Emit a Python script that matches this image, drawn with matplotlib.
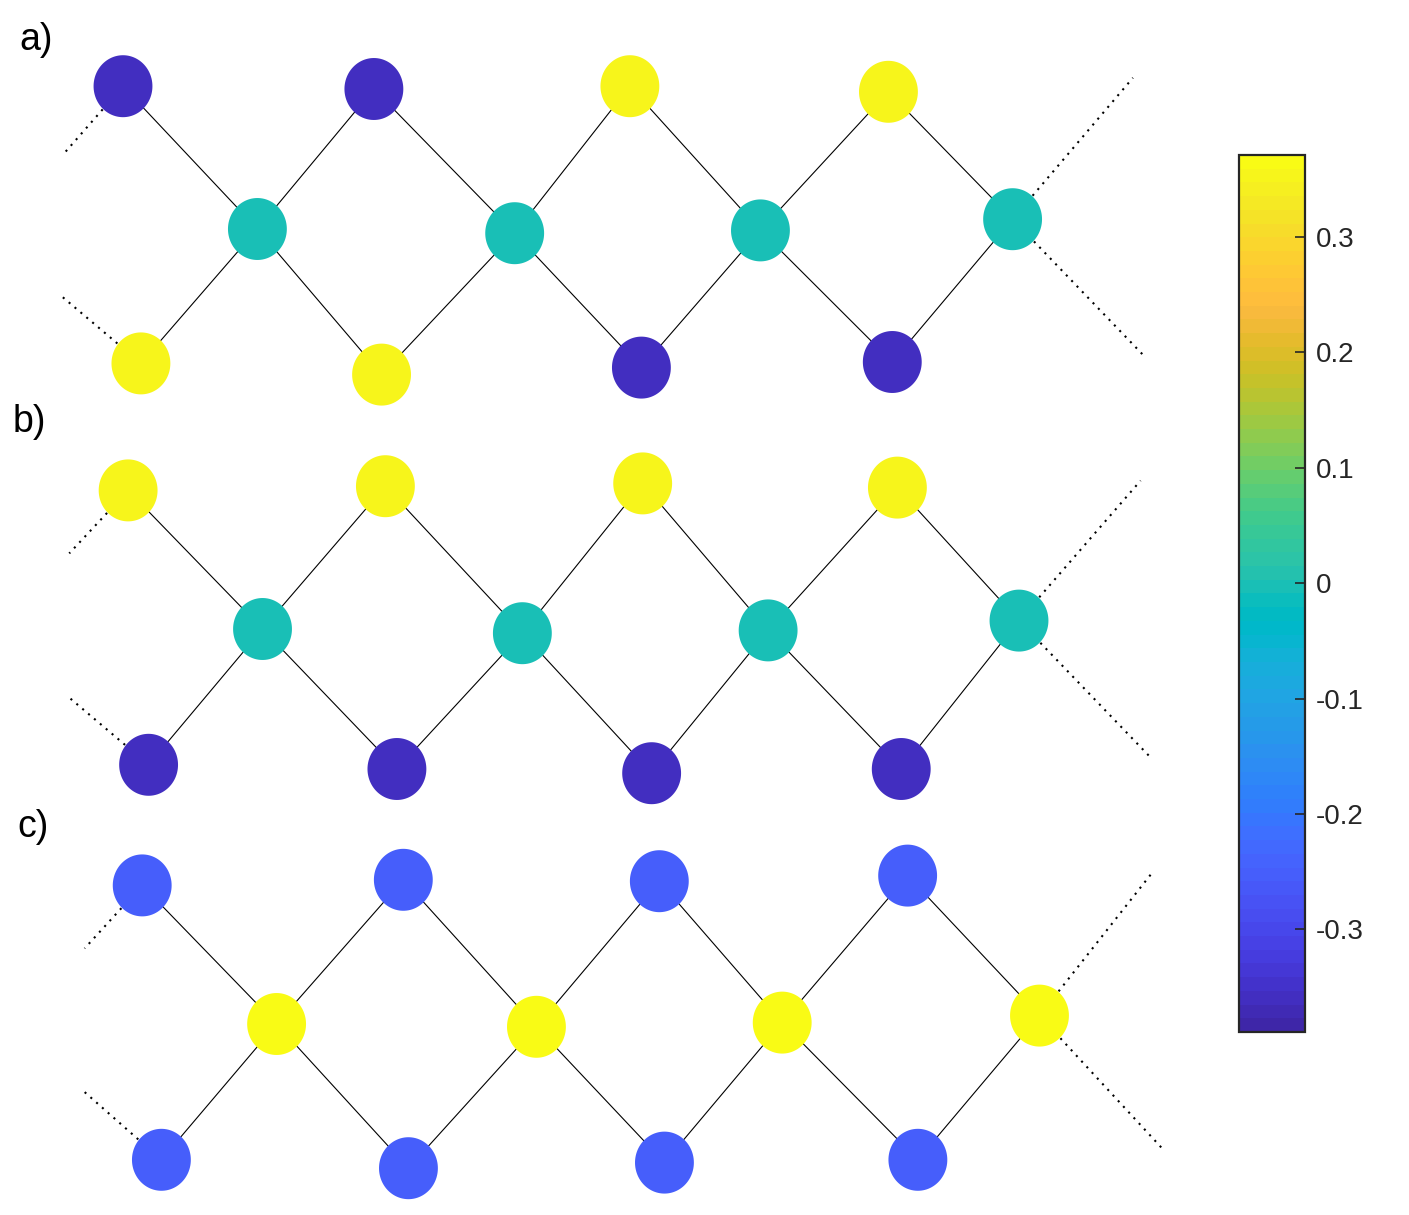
import numpy as np
import matplotlib
matplotlib.use("Agg")
import matplotlib.pyplot as plt
from matplotlib.colors import ListedColormap, Normalize
from matplotlib.cm import ScalarMappable
from matplotlib.path import Path

plt.rcParams['font.family'] = ['Liberation Sans', 'DejaVu Sans']
plt.rcParams['axes.unicode_minus'] = False

# ---------------- data ----------------
panel_labels = ['a)', 'b)', 'c)']

# panel a
a_top_x = [0.00, 1.96, 3.96, 5.98]
a_top_y = [1.02, 1.00, 1.02, 0.98]
a_top_v = [-0.36, -0.36, 0.355, 0.355]
a_mid_x = [1.05, 3.06, 4.98, 6.95]
a_mid_y = [0.00, -0.03, -0.01, 0.07]
a_mid_v = [0.0, 0.0, 0.0, 0.0]
a_bot_x = [0.14, 2.02, 4.05, 6.01]
a_bot_y = [-0.96, -1.04, -0.99, -0.95]
a_bot_v = [0.355, 0.355, -0.36, -0.36]
a_ends_x = [-0.47, -0.48, 7.89, 7.97]   # left-top, left-bottom, right-top, right-bottom
a_ends_y = [0.53, -0.48, 1.08, -0.90]

# panel b
b_top_x = [0.04, 2.05, 4.06, 6.05]
b_top_y = [0.99, 1.02, 1.04, 1.01]
b_top_v = [0.355, 0.355, 0.355, 0.355]
b_mid_x = [1.09, 3.12, 5.04, 7.00]
b_mid_y = [0.00, -0.03, -0.01, 0.06]
b_mid_v = [0.0, 0.0, 0.0, 0.0]
b_bot_x = [0.20, 2.14, 4.13, 6.08]
b_bot_y = [-0.97, -1.00, -1.03, -1.00]
b_bot_v = [-0.36, -0.36, -0.36, -0.36]
b_ends_x = [-0.42, -0.42, 7.95, 8.02]
b_ends_y = [0.54, -0.49, 1.06, -0.91]

# panel c
c_top_x = [0.15, 2.19, 4.19, 6.13]
c_top_y = [0.99, 1.03, 1.02, 1.06]
c_top_v = [-0.25, -0.25, -0.25, -0.25]
c_mid_x = [1.20, 3.23, 5.15, 7.16]
c_mid_y = [0.00, -0.02, 0.01, 0.06]
c_mid_v = [0.37, 0.37, 0.37, 0.37]
c_bot_x = [0.30, 2.23, 4.23, 6.21]
c_bot_y = [-0.97, -1.03, -0.99, -0.97]
c_bot_v = [-0.25, -0.25, -0.25, -0.25]
c_ends_x = [-0.30, -0.32, 8.04, 8.13]
c_ends_y = [0.54, -0.47, 1.08, -0.90]

color_limits = [-0.389, 0.371]
cbar_ticks = [-0.3, -0.2, -0.1, 0.0, 0.1, 0.2, 0.3]
cbar_ticklabels = ['-0.3', '-0.2', '-0.1', '0', '0.1', '0.2', '0.3']

# ---------------- colormap (parula, 64) ----------------
parula = ListedColormap([
    [0.2422, 0.1504, 0.6603], [0.2504, 0.1650, 0.7076], [0.2578, 0.1818, 0.7511], [0.2647, 0.1978, 0.7952],
    [0.2706, 0.2147, 0.8364], [0.2751, 0.2342, 0.8710], [0.2783, 0.2559, 0.8991], [0.2803, 0.2782, 0.9221],
    [0.2813, 0.3006, 0.9414], [0.2810, 0.3228, 0.9579], [0.2795, 0.3447, 0.9717], [0.2760, 0.3667, 0.9829],
    [0.2699, 0.3892, 0.9906], [0.2602, 0.4123, 0.9952], [0.2440, 0.4358, 0.9988], [0.2206, 0.4603, 0.9973],
    [0.1963, 0.4847, 0.9892], [0.1834, 0.5074, 0.9798], [0.1786, 0.5289, 0.9682], [0.1764, 0.5499, 0.9520],
    [0.1687, 0.5703, 0.9359], [0.1540, 0.5902, 0.9218], [0.1460, 0.6091, 0.9079], [0.1380, 0.6276, 0.8973],
    [0.1248, 0.6459, 0.8883], [0.1113, 0.6635, 0.8763], [0.0952, 0.6798, 0.8598], [0.0689, 0.6948, 0.8394],
    [0.0297, 0.7082, 0.8163], [0.0036, 0.7203, 0.7917], [0.0067, 0.7312, 0.7660], [0.0433, 0.7411, 0.7394],
    [0.0964, 0.7500, 0.7120], [0.1408, 0.7584, 0.6842], [0.1717, 0.7670, 0.6554], [0.1938, 0.7758, 0.6251],
    [0.2161, 0.7843, 0.5923], [0.2470, 0.7918, 0.5567], [0.2906, 0.7973, 0.5188], [0.3406, 0.8008, 0.4789],
    [0.3909, 0.8029, 0.4354], [0.4456, 0.8024, 0.3909], [0.5044, 0.7993, 0.3480], [0.5616, 0.7942, 0.3045],
    [0.6174, 0.7876, 0.2612], [0.6720, 0.7793, 0.2227], [0.7242, 0.7698, 0.1910], [0.7738, 0.7598, 0.1646],
    [0.8203, 0.7498, 0.1535], [0.8634, 0.7406, 0.1596], [0.9035, 0.7330, 0.1774], [0.9393, 0.7288, 0.2100],
    [0.9728, 0.7298, 0.2394], [0.9956, 0.7434, 0.2371], [0.9970, 0.7659, 0.2199], [0.9952, 0.7893, 0.2028],
    [0.9892, 0.8136, 0.1885], [0.9786, 0.8386, 0.1766], [0.9676, 0.8639, 0.1643], [0.9610, 0.8890, 0.1537],
    [0.9597, 0.9135, 0.1423], [0.9628, 0.9373, 0.1265], [0.9691, 0.9606, 0.1064], [0.9769, 0.9839, 0.0805]],
    name='parula')
norm = Normalize(vmin=color_limits[0], vmax=color_limits[1])

# slightly tall ellipse marker
t = np.linspace(0, 2 * np.pi, 100)
ellipse = Path(np.column_stack([0.95 * np.cos(t), np.sin(t)]), closed=True)

W, H = 1409, 1215
fig = plt.figure(figsize=(W / 100, H / 100), dpi=100)

panels = [
    (a_top_x, a_top_y, a_top_v, a_mid_x, a_mid_y, a_mid_v, a_bot_x, a_bot_y, a_bot_v, a_ends_x, a_ends_y),
    (b_top_x, b_top_y, b_top_v, b_mid_x, b_mid_y, b_mid_v, b_bot_x, b_bot_y, b_bot_v, b_ends_x, b_ends_y),
    (c_top_x, c_top_y, c_top_v, c_mid_x, c_mid_y, c_mid_v, c_bot_x, c_bot_y, c_bot_v, c_ends_x, c_ends_y),
]
offsets = [0, 400, 795]
ax_h = 420
xu, yu, x0, y0 = 128.0, 140.0, 123.0, 229.0
dot_style = dict(color='k', lw=1.5, linestyle=(0, (1, 2.7)), zorder=1)
line_style = dict(color='k', lw=0.8, zorder=1)

for (tx, ty, tv, mx, my, mv, bx, by, bv, ex, ey), off in zip(panels, offsets):
    ax = fig.add_axes([0, 1 - (off + ax_h) / H, 1, ax_h / H])
    ax.set_xlim(-x0 / xu, (W - x0) / xu)
    ax.set_ylim((y0 - ax_h) / yu, y0 / yu)
    ax.axis('off')
    n = len(mx)
    for i in range(n):
        ax.plot([mx[i], tx[i]], [my[i], ty[i]], **line_style)
        ax.plot([mx[i], bx[i]], [my[i], by[i]], **line_style)
        if i + 1 < n:
            ax.plot([mx[i], tx[i + 1]], [my[i], ty[i + 1]], **line_style)
            ax.plot([mx[i], bx[i + 1]], [my[i], by[i + 1]], **line_style)
    ax.plot([tx[0], ex[0]], [ty[0], ey[0]], **dot_style)
    ax.plot([bx[0], ex[1]], [by[0], ey[1]], **dot_style)
    ax.plot([mx[-1], ex[2]], [my[-1], ey[2]], **dot_style)
    ax.plot([mx[-1], ex[3]], [my[-1], ey[3]], **dot_style)
    xs = list(tx) + list(mx) + list(bx)
    ys = list(ty) + list(my) + list(by)
    vs = list(tv) + list(mv) + list(bv)
    ax.scatter(xs, ys, c=vs, cmap=parula, norm=norm, s=1990, marker=ellipse,
               edgecolors='none', zorder=3, clip_on=False)

label_pos = [(19, 50), (13, 432), (17, 837)]
for lab, (px, py) in zip(panel_labels, label_pos):
    fig.text(px / W, 1 - py / H, lab, fontsize=27, ha='left', va='baseline', color='k')

cax = fig.add_axes([1239 / W, 1 - 1032 / H, 66 / W, 877 / H])
cb = fig.colorbar(ScalarMappable(norm=norm, cmap=parula), cax=cax, ticks=cbar_ticks)
cb.ax.set_yticklabels(cbar_ticklabels)
cb.ax.tick_params(direction='in', length=7, width=1.2, colors='#262626',
                  labelsize=20, pad=8, right=True, left=False)
cb.outline.set_linewidth(1.6)
cb.outline.set_edgecolor('#262626')

fig.savefig('out.png', dpi=100)
